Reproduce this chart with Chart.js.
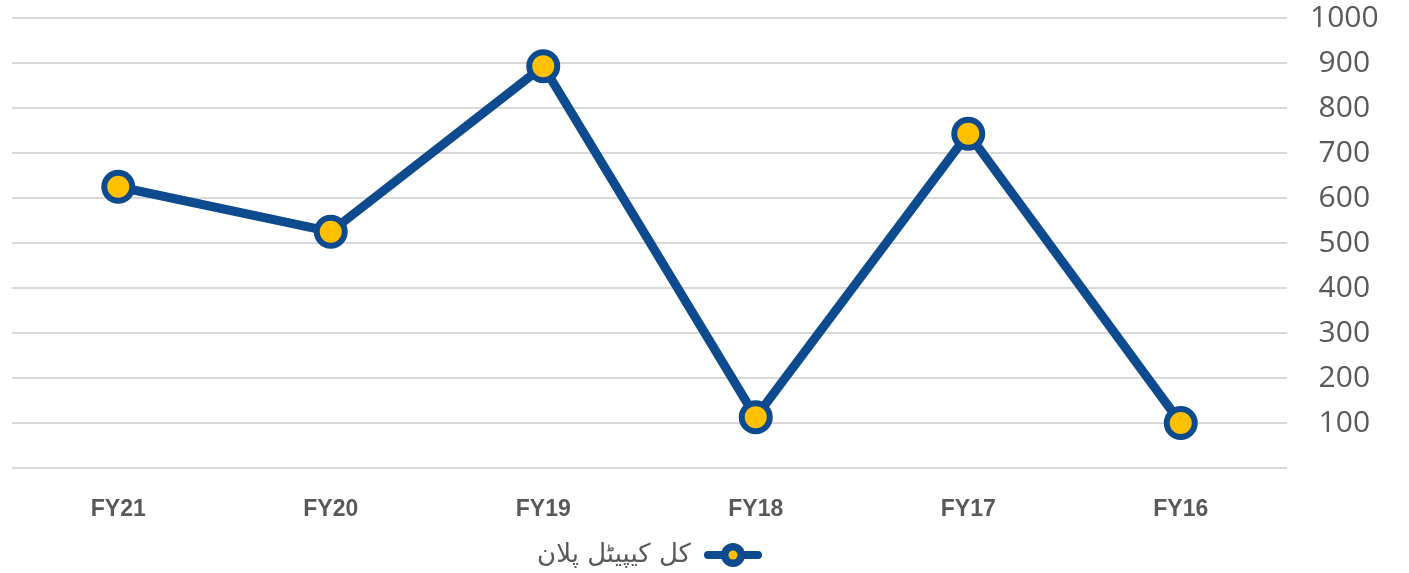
<!DOCTYPE html>
<html>
<head>
<meta charset="utf-8">
<script src="https://cdn.jsdelivr.net/npm/chart.js@4/dist/chart.umd.min.js"></script>
<style>
html,body{margin:0;padding:0;background:#fff;}
#wrap{width:1409px;height:573px;position:relative;}
</style>
</head>
<body>
<div id="wrap"><canvas id="c" width="1409" height="573"></canvas></div>
<script>
const categories = ['FY21', 'FY20', 'FY19', 'FY18', 'FY17', 'FY16'];
const capitalPlan = [625, 525, 893, 113, 743, 100];
const seriesLabel = 'کل کیپیٹل پلان';
const yTicks = [0, 100, 200, 300, 400, 500, 600, 700, 800, 900, 1000];

const BLUE = '#0d4a8e';
const GOLD = '#ffc000';
const GREY = '#595959';

// legend marker image: line with a circle
const mk = document.createElement('canvas');
mk.width = 58; mk.height = 28;
(function(){
  const g = mk.getContext('2d');
  g.strokeStyle = BLUE; g.lineWidth = 8; g.lineCap = 'round';
  g.beginPath(); g.moveTo(4, 14); g.lineTo(54, 14); g.stroke();
  g.fillStyle = BLUE; g.beginPath(); g.arc(29, 14, 12, 0, Math.PI*2); g.fill();
  g.fillStyle = GOLD; g.beginPath(); g.arc(29, 14, 4.5, 0, Math.PI*2); g.fill();
})();

new Chart(document.getElementById('c'), {
  type: 'line',
  data: {
    labels: categories,
    datasets: [{
      label: seriesLabel,
      data: capitalPlan,
      borderColor: BLUE,
      borderWidth: 9,
      pointRadius: 14,
      pointBorderWidth: 6,
      pointBackgroundColor: GOLD,
      pointBorderColor: BLUE,
      tension: 0,
      clip: false
    }]
  },
  options: {
    responsive: false,
    animation: false,
    layout: { autoPadding: false, padding: { left: 12, right: 0, top: 18, bottom: -5 } },
    plugins: {
      tooltip: { enabled: false },
      legend: {
        position: 'bottom',
        fullSize: false,
        rtl: true,
        labels: {
          color: GREY,
          font: { family: 'DejaVu Sans', size: 26 },
          usePointStyle: true,
          pointStyleWidth: 58,
          padding: 0,
          generateLabels: (chart) => [{
            text: seriesLabel,
            pointStyle: mk,
            fontColor: GREY,
            datasetIndex: 0,
            hidden: false,
            lineWidth: 0
          }]
        }
      }
    },
    scales: {
      x: {
        offset: true,
        grid: { display: false },
        border: { display: false },
        ticks: {
          color: GREY,
          font: { family: 'Liberation Sans', size: 23, weight: 'bold' },
          padding: 20
        },
        afterFit: (s) => { s.height = 74; s.paddingLeft = 0; s.paddingRight = 0; }
      },
      y: {
        position: 'right',
        min: 0, max: 1000,
        afterBuildTicks: (s) => { s.ticks = yTicks.map(v => ({ value: v })); },
        grid: { color: '#d9d9d9', lineWidth: 2, drawTicks: false },
        border: { display: false },
        ticks: {
          color: GREY,
          crossAlign: 'center',
          padding: 23,
          font: { family: 'Open Sans', size: 30 },
          callback: (v) => v === 0 ? '' : String(v)
        },
        afterFit: (s) => { s.width = 122; s.paddingTop = 0; s.paddingBottom = 0; }
      }
    }
  }
});
</script>
</body>
</html>
